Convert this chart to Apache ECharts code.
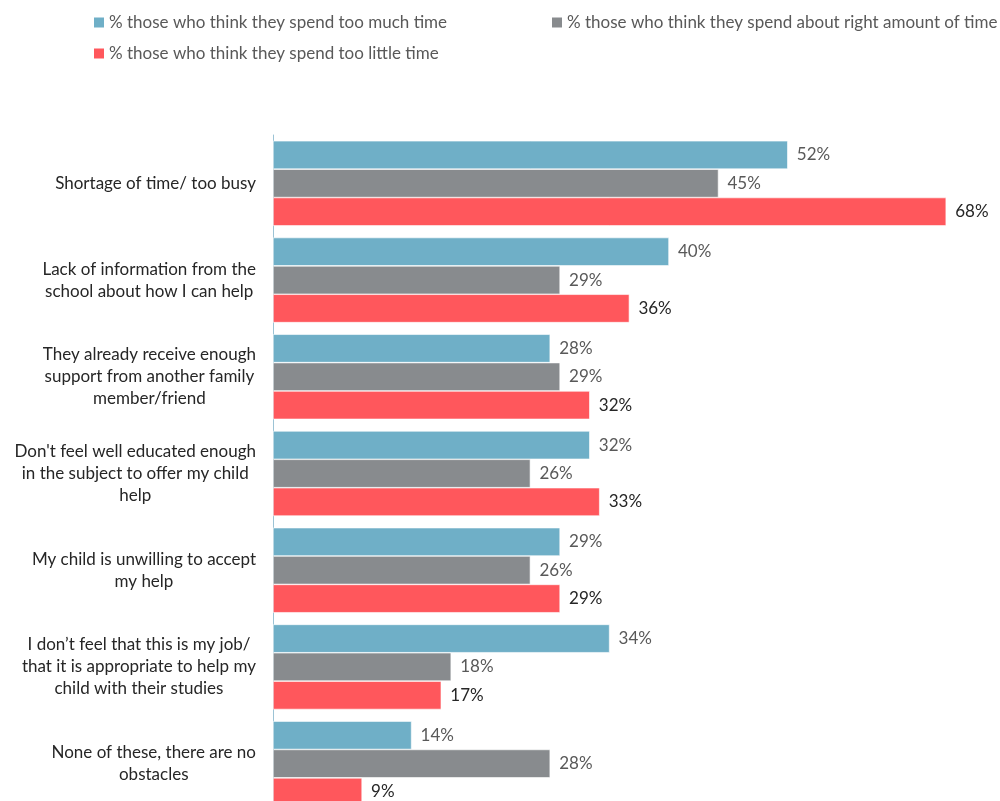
<!DOCTYPE html>
<html>
<head>
<meta charset="utf-8">
<script src="https://cdn.jsdelivr.net/npm/echarts@6/dist/echarts.min.js"></script>
<style>
  html, body { margin: 0; padding: 0; background: #fff; }
  #chart { width: 1000px; height: 801px; }
</style>
</head>
<body>
<div id="chart"></div>
<script>
// Obstacles to helping a child with schoolwork, by perceived time spent helping
const categories = [
  'Shortage of time/ too busy',
  'Lack of information from the\nschool about how I can help',
  'They already receive enough\nsupport from another family\nmember/friend',
  "Don't feel well educated enough\nin the subject to offer my child\nhelp",
  'My child is unwilling to accept\nmy help',
  'I don\u2019t feel that this is my job/\nthat it is appropriate to help my\nchild with their studies',
  'None of these, there are no\nobstacles'
];
const seriesNames = [
  '% those who think they spend too much time',
  '% those who think they spend about right amount of time',
  '% those who think they spend too little time'
];
const tooMuch    = [52, 40, 28, 32, 29, 34, 14];
const aboutRight = [45, 29, 29, 26, 26, 18, 28];
const tooLittle  = [68, 36, 32, 33, 29, 17, 9];

const colors = ['#6FAFC7', '#888B8E', '#FF575C'];
const labelColors = ['#595959', '#595959', '#262626'];
const FONT = 'Lato, "Open Sans", sans-serif';
const FS = 17;

const chart = echarts.init(document.getElementById('chart'), null, { renderer: 'canvas' });

const legendBase = {
  icon: 'rect', itemWidth: 10, itemHeight: 10, itemGap: 6,
  itemStyle: { borderWidth: 0 },
  textStyle: { color: '#595959', fontSize: FS, fontFamily: FONT }
};

chart.setOption({
  animation: false,
  backgroundColor: '#fff',
  legend: [
    Object.assign({ data: [seriesNames[0]], left: 89, top: 9 }, legendBase),
    Object.assign({ data: [seriesNames[1]], left: 547, top: 9 }, legendBase),
    Object.assign({ data: [seriesNames[2]], left: 89, top: 40 }, legendBase)
  ],
  grid: { left: 273, top: 135, width: 693, height: 677, outerBoundsMode: 'none', containLabel: false },
  xAxis: {
    type: 'value', min: 0, max: 70,
    show: false
  },
  yAxis: {
    type: 'category',
    data: categories,
    inverse: true,
    axisLine: { lineStyle: { color: '#9CC3D5', width: 1 } },
    axisTick: { show: false },
    axisLabel: {
      margin: 17,
      color: '#262626',
      fontSize: FS,
      fontFamily: FONT,
      lineHeight: 22,
      formatter: v => v.split('\n').map(l => '{c|' + l + '}').join('\n'),
      rich: { c: { align: 'center', fontSize: FS, fontFamily: FONT, color: '#262626', lineHeight: 22 } }
    }
  },
  series: [tooMuch, aboutRight, tooLittle].map((vals, i) => ({
    name: seriesNames[i],
    type: 'bar',
    data: vals,
    barGap: '0%',
    barCategoryGap: '12%',
    itemStyle: { color: colors[i], borderColor: '#fff', borderWidth: 0.6 },
    label: {
      show: true, position: 'right', distance: 9,
      formatter: p => p.value + '%',
      color: labelColors[i], fontSize: FS, fontFamily: FONT
    }
  }))
});
</script>
</body>
</html>
